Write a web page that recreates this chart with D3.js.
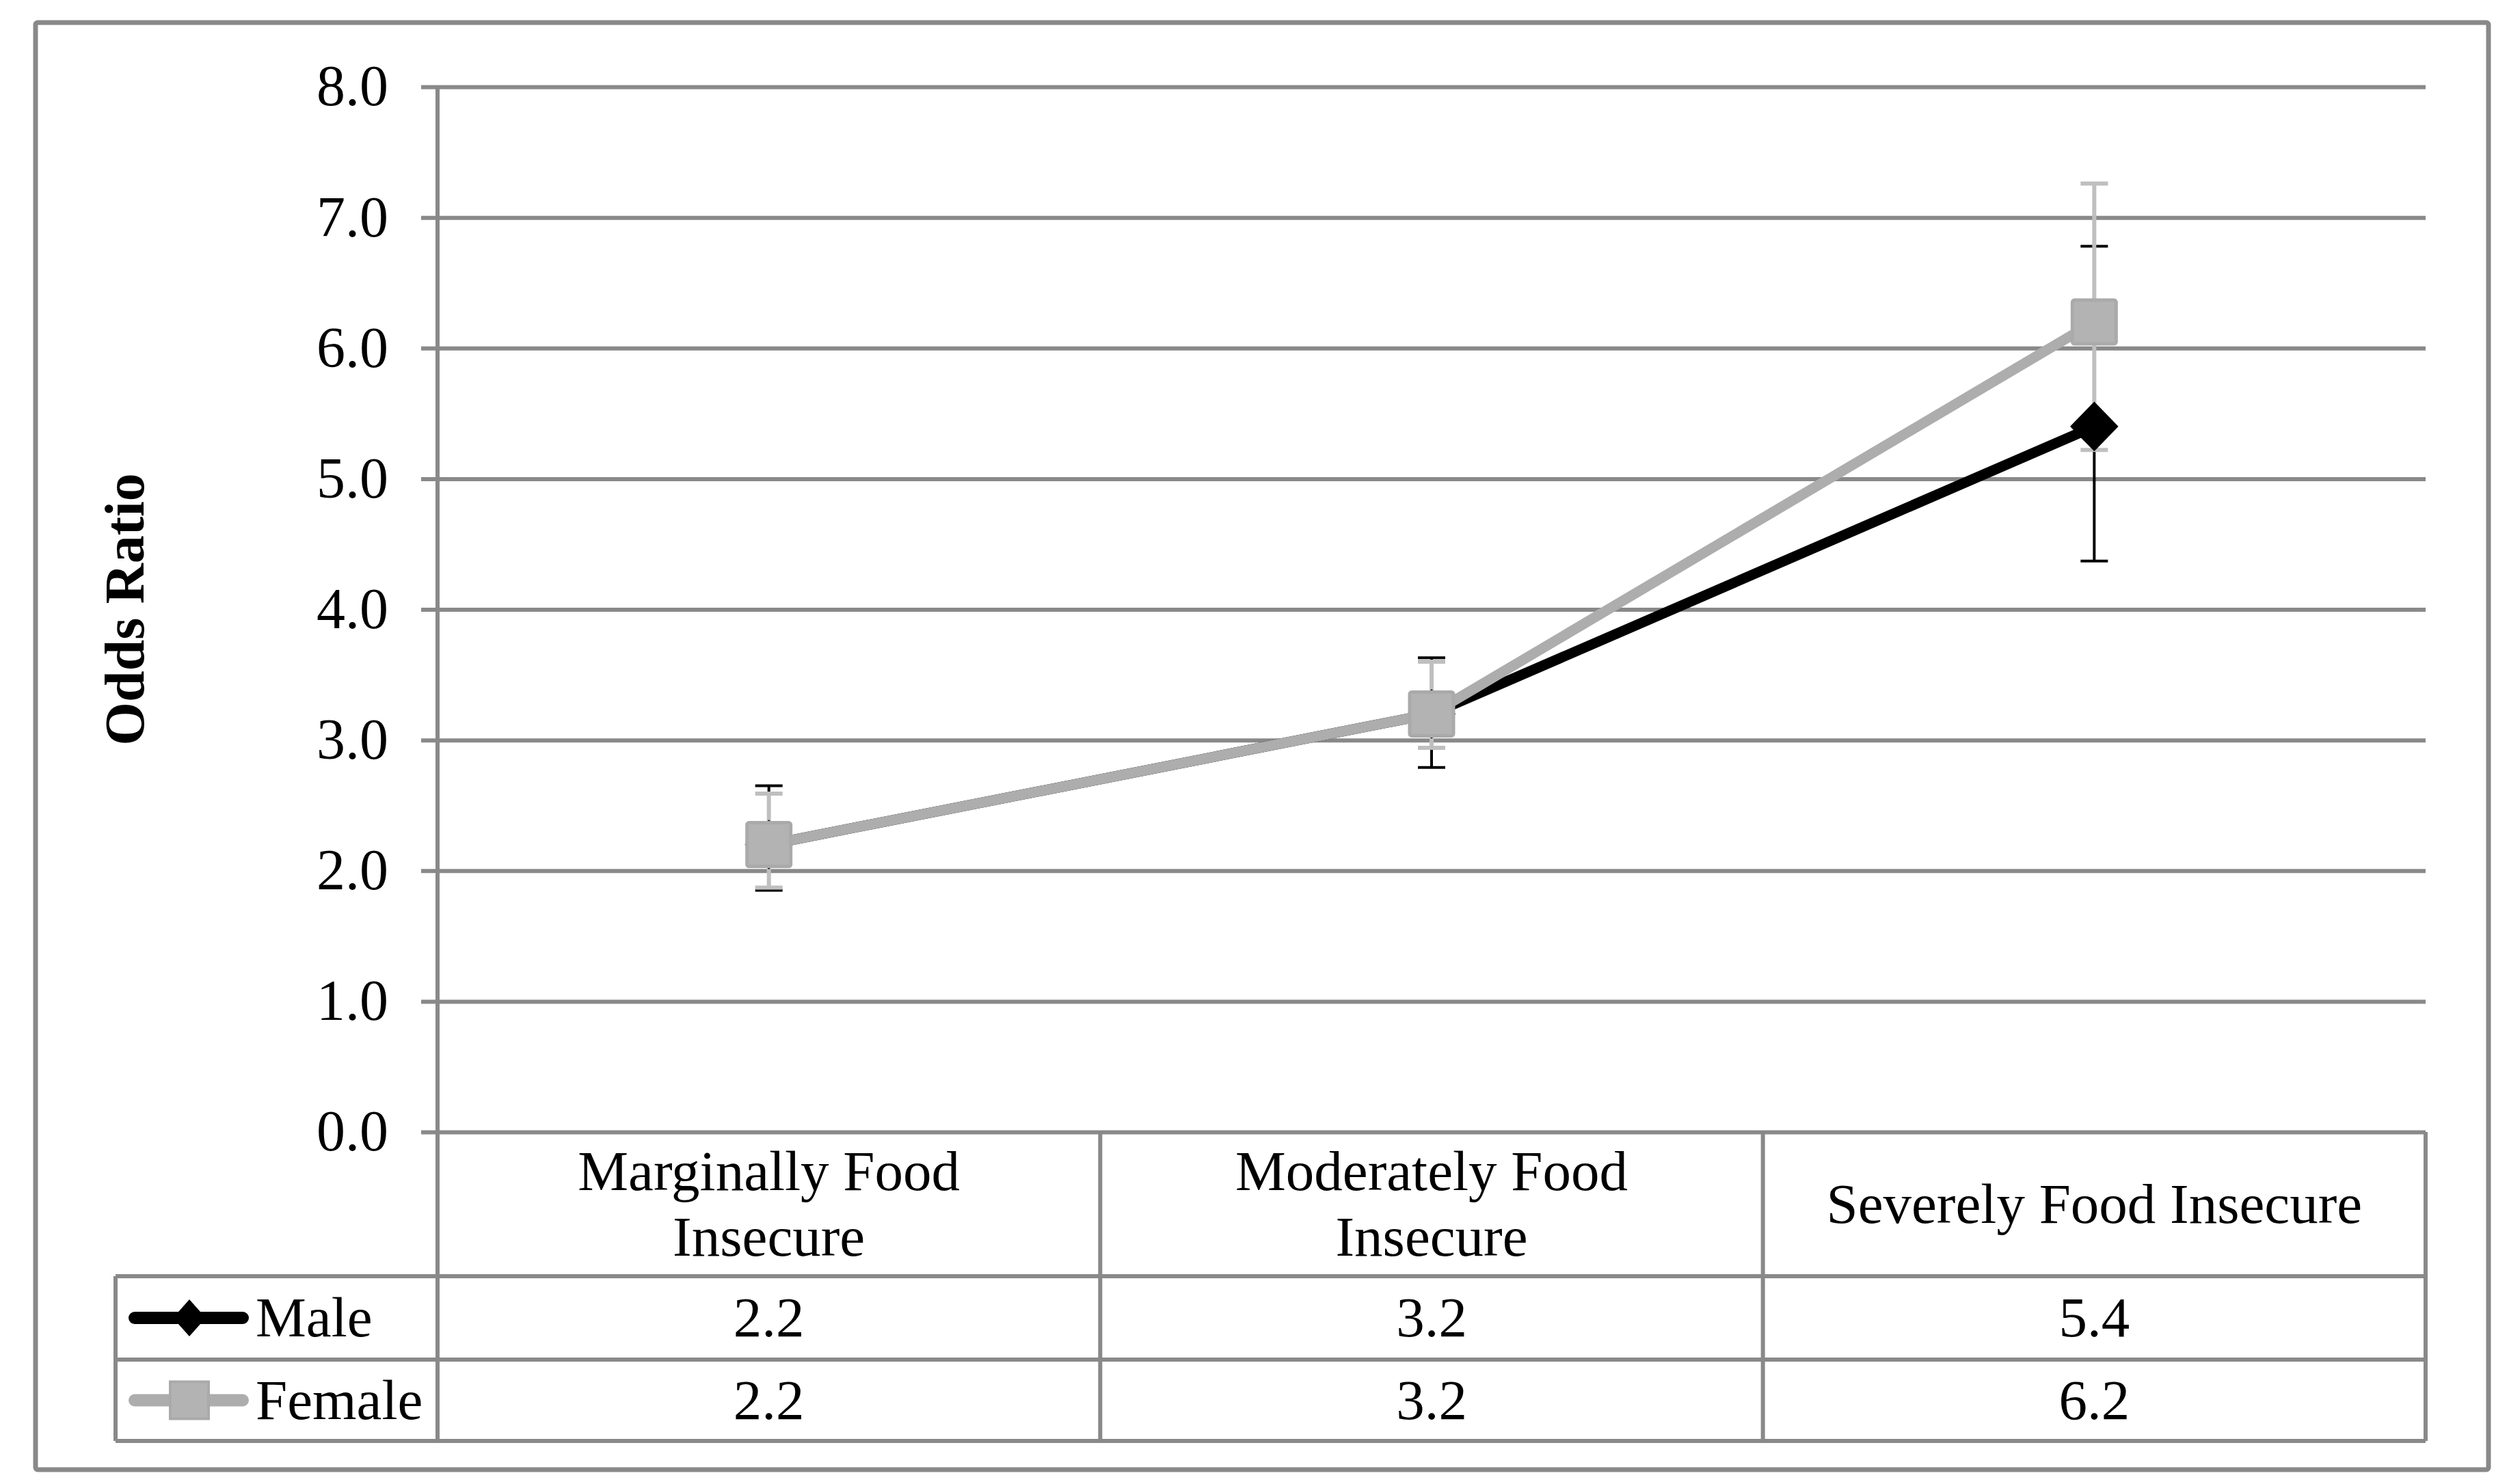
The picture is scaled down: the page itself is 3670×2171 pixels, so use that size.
<!DOCTYPE html>
<html>
<head>
<meta charset="utf-8">
<script src="https://cdn.jsdelivr.net/npm/d3@7/dist/d3.min.js"></script>
<style>
  html, body { margin: 0; padding: 0; background: #fff; }
  svg { display: block; }
  text { font-family: "Liberation Serif", "Times New Roman", serif; fill: #000; }
</style>
</head>
<body>
<svg id="chart" width="3670" height="2171"></svg>
<script>
// ---- data ----
const categories = ["Marginally Food Insecure", "Moderately Food Insecure", "Severely Food Insecure"];
const categoryLabelLines = [["Marginally Food", "Insecure"], ["Moderately Food", "Insecure"], ["Severely Food Insecure"]];
const seriesNames = ["Male", "Female"];
const maleValues = [2.2, 3.2, 5.4];
const maleLower = [1.85, 2.79, 4.37];
const maleUpper = [2.65, 3.63, 6.78];
const femaleValues = [2.2, 3.2, 6.2];
const femaleLower = [1.87, 2.94, 5.22];
const femaleUpper = [2.59, 3.60, 7.26];
const yTicks = [0, 1, 2, 3, 4, 5, 6, 7, 8];
const yTitle = "Odds Ratio";

// ---- layout ----
const W = 3670, H = 2171;
const plotL = 640, plotR = 3548, plotT = 127, plotB = 1656;
const catRowB = 1867, row1B = 1989, row2B = 2108;
const legendL = 169;
const gridColor = "#898989";
const svg = d3.select("#chart");

const x = d3.scaleBand().domain(categories).range([plotL, plotR]).padding(0);
const y = d3.scaleLinear().domain([0, 8]).range([plotB, plotT]);
const cx = c => x(c) + x.bandwidth() / 2;

// outer border
svg.append("rect").attr("x", 52).attr("y", 33).attr("width", 3640 - 52).attr("height", 2150 - 33)
  .attr("fill", "#fff").attr("stroke", gridColor).attr("stroke-width", 7).attr("rx", 3);

// gridlines + tick labels via axis
const yAxis = d3.axisLeft(y).tickValues(yTicks).tickFormat(d3.format(".1f"))
  .tickSize(-(plotR - plotL)).tickSizeOuter(0).tickPadding(72);
const gy = svg.append("g").attr("transform", `translate(${plotL},0)`).call(yAxis);
gy.select(".domain").remove();
gy.selectAll(".tick line").attr("stroke", gridColor).attr("stroke-width", 6).attr("x1", -24);
gy.selectAll(".tick text").attr("font-size", 84).attr("font-family", "Liberation Serif").attr("fill", "#000");

// y axis line + table verticals
svg.append("line").attr("x1", plotL).attr("x2", plotL).attr("y1", plotT).attr("y2", row2B)
  .attr("stroke", gridColor).attr("stroke-width", 6);
const seps = categories.map(c => x(c) + x.bandwidth());
svg.selectAll(".vsep").data(seps).join("line")
  .attr("x1", d => d).attr("x2", d => d).attr("y1", plotB).attr("y2", row2B)
  .attr("stroke", gridColor).attr("stroke-width", 6);
// table horizontals
svg.selectAll(".hsep").data([catRowB, row1B, row2B]).join("line")
  .attr("x1", legendL).attr("x2", plotR).attr("y1", d => d).attr("y2", d => d)
  .attr("stroke", gridColor).attr("stroke-width", 6);
svg.append("line").attr("x1", legendL).attr("x2", legendL).attr("y1", catRowB).attr("y2", row2B)
  .attr("stroke", gridColor).attr("stroke-width", 6);

// category labels
const catMid = (plotB + catRowB) / 2;
categories.forEach((c, i) => {
  const lines = categoryLabelLines[i];
  const lh = 96;
  const t = svg.append("text").attr("text-anchor", "middle").attr("font-size", 83);
  lines.forEach((ln, j) => {
    t.append("tspan").attr("x", cx(c))
      .attr("y", catMid + (j - (lines.length - 1) / 2) * lh)
      .attr("dy", "0.33em").text(ln);
  });
});

// y title
svg.append("text").attr("transform", `translate(183,${(plotT + plotB) / 2}) rotate(-90)`)
  .attr("text-anchor", "middle").attr("dy", "0.33em").attr("font-size", 82).attr("font-weight", "bold")
  .text(yTitle);

// series definitions
const series = [
  { name: seriesNames[0], values: maleValues, lower: maleLower, upper: maleUpper,
    line: "#000000", err: "#000000", errW: 4, marker: "diamond" },
  { name: seriesNames[1], values: femaleValues, lower: femaleLower, upper: femaleUpper,
    line: "#adadad", err: "#bfbfbf", errW: 6, marker: "square" }
];

// error bars (male first, female on top)
const capHalf = 20;
series.forEach(s => {
  const g = svg.append("g");
  categories.forEach((c, i) => {
    const xx = cx(c);
    g.append("line").attr("x1", xx).attr("x2", xx).attr("y1", y(s.lower[i])).attr("y2", y(s.upper[i]))
      .attr("stroke", s.err).attr("stroke-width", s.errW);
    [s.lower[i], s.upper[i]].forEach(v => {
      g.append("line").attr("x1", xx - capHalf).attr("x2", xx + capHalf).attr("y1", y(v)).attr("y2", y(v))
        .attr("stroke", s.err).attr("stroke-width", s.errW);
    });
  });
});

// lines + markers
function drawMarker(g, type, px, py) {
  if (type === "diamond") {
    const hw = 34, hh = 35;
    g.append("path").attr("d", `M${px},${py - hh}L${px + hw},${py}L${px},${py + hh}L${px - hw},${py}Z`)
      .attr("fill", "#000").attr("stroke", "#000").attr("stroke-width", 2).attr("stroke-linejoin", "round");
  } else {
    const s = 64;
    g.append("rect").attr("x", px - s / 2).attr("y", py - s / 2).attr("width", s).attr("height", s)
      .attr("rx", 3).attr("fill", "#b3b3b3").attr("stroke", "#aaaaaa").attr("stroke-width", 5);
  }
}
const lineGen = d3.line().x(d => cx(d.c)).y(d => y(d.v));
series.forEach(s => {
  const g = svg.append("g");
  const pts = categories.map((c, i) => ({ c, v: s.values[i] }));
  g.append("path").attr("d", lineGen(pts)).attr("fill", "none").attr("stroke", s.line)
    .attr("stroke-width", 15).attr("stroke-linejoin", "round");
  pts.forEach(p => drawMarker(g, s.marker, cx(p.c), y(p.v)));
});

// table rows: legend keys + values
const rowMids = [(catRowB + row1B) / 2, (row1B + row2B) / 2];
series.forEach((s, k) => {
  const ry = rowMids[k];
  const g = svg.append("g");
  g.append("line").attr("x1", 197).attr("x2", 355).attr("y1", ry).attr("y2", ry)
    .attr("stroke", s.line).attr("stroke-width", 18).attr("stroke-linecap", "round");
  if (s.marker === "diamond") {
    g.append("path").attr("d", `M277,${ry - 27}L301,${ry}L277,${ry + 27}L253,${ry}Z`).attr("fill", "#000");
  } else {
    g.append("rect").attr("x", 249).attr("y", ry - 27).attr("width", 56).attr("height", 54)
      .attr("fill", "#b3b3b3").attr("stroke", "#aaaaaa").attr("stroke-width", 4);
  }
  g.append("text").attr("x", 374).attr("y", ry).attr("dy", "0.33em").attr("font-size", 83).text(s.name);
  categories.forEach((c, i) => {
    g.append("text").attr("x", cx(c)).attr("y", ry).attr("dy", "0.33em").attr("text-anchor", "middle")
      .attr("font-size", 83).text(d3.format(".1f")(s.values[i]));
  });
});
</script>
</body>
</html>
